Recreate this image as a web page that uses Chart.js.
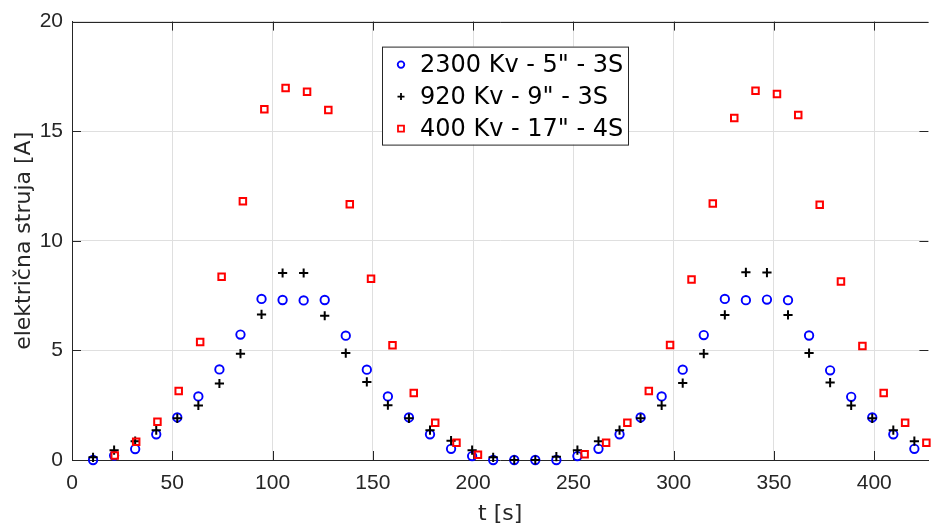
<!DOCTYPE html>
<html>
<head>
<meta charset="utf-8">
<script src="https://cdn.jsdelivr.net/npm/chart.js@4.4.1/dist/chart.umd.min.js"></script>
<style>
html,body{margin:0;padding:0;background:#ffffff;overflow:hidden}
#wrap{width:935px;height:527px;position:relative}
</style>
</head>
<body>
<div id="wrap"><canvas id="c" width="935" height="527"></canvas></div>
<script>
// ---- data ----
const seriesNames = ['2300 Kv - 5" - 3S', '920 Kv - 9" - 3S', '400 Kv - 17" - 4S'];

// time instants of the blue (circle) and black (plus) series [s]
const tCommon = [10.5, 21, 31.5, 42, 52.5, 63, 73.5, 84, 94.5, 105,
                 115.5, 126, 136.5, 147, 157.5, 168, 178.5, 189, 199.5, 210,
                 220.5, 231, 241.5, 252, 262.5, 273, 283.5, 294, 304.5, 315,
                 325.5, 336, 346.5, 357, 367.5, 378, 388.5, 399, 409.5, 420];

const blueValues = [0, 0.2, 0.5, 1.17, 1.94, 2.9, 4.13, 5.72, 7.35, 7.3,
                    7.28, 7.3, 5.67, 4.12, 2.9, 1.94, 1.17, 0.51, 0.18, 0,
                    0, 0, 0, 0.18, 0.51, 1.17, 1.94, 2.9, 4.12, 5.7,
                    7.35, 7.29, 7.32, 7.29, 5.68, 4.09, 2.88, 1.94, 1.17, 0.51];

const blackValues = [0.12, 0.45, 0.86, 1.36, 1.9, 2.49, 3.49, 4.85, 6.64, 8.53,
                     8.53, 6.58, 4.88, 3.56, 2.5, 1.9, 1.36, 0.88, 0.45, 0.12,
                     0, 0, 0.15, 0.45, 0.86, 1.36, 1.9, 2.49, 3.51, 4.85,
                     6.62, 8.56, 8.55, 6.62, 4.88, 3.53, 2.49, 1.9, 1.36, 0.86];

// time instants of the red (square) series [s]
const tRed = [21.3, 32, 42.6, 53.2, 63.9, 74.6, 85.2, 95.9, 106.5, 117.2,
              127.8, 138.5, 149.1, 159.8, 170.4, 181.1, 191.7, 202.4,
              255.6, 266.3, 276.9, 287.6, 298.2, 308.9, 319.5, 330.2, 340.8,
              351.5, 362.1, 372.8, 383.4, 394.1, 404.7, 415.4, 426];

const redValues = [0.2, 0.83, 1.74, 3.15, 5.38, 8.36, 11.8, 16.0, 16.97, 16.8,
                   15.97, 11.67, 8.27, 5.24, 3.06, 1.7, 0.79, 0.24,
                   0.26, 0.79, 1.7, 3.15, 5.25, 8.24, 11.7, 15.6, 16.85,
                   16.7, 15.74, 11.64, 8.14, 5.2, 3.06, 1.7, 0.79];

const xTicks = [0, 50, 100, 150, 200, 250, 300, 350, 400];
const yTicks = [0, 5, 10, 15, 20];
const xTitle = 't [s]';
const yTitle = 'električna struja [A]';

// ---- styling ----
const AXIS = '#262626';
const GRID = '#dfdfdf';
const colors = ['#0000ff', '#000000', '#ff0000'];
const styles = ['circle', 'cross', 'rect'];

const pairs = (xs, ys) => xs.map((x, i) => ({x: x, y: ys[i]}));

const axesDeco = {
  id: 'axesDeco',
  beforeDatasetsDraw(chart) {
    const {ctx, chartArea: a, scales: {x, y}} = chart;
    const tl = 9;
    ctx.save();
    ctx.strokeStyle = AXIS;
    ctx.lineWidth = 1;
    ctx.beginPath();
    ctx.moveTo(a.left, Math.round(a.top) + 0.5);
    ctx.lineTo(a.right, Math.round(a.top) + 0.5);
    xTicks.forEach(v => {
      const px = Math.round(x.getPixelForValue(v)) + 0.5;
      ctx.moveTo(px, a.bottom); ctx.lineTo(px, a.bottom - tl);
      ctx.moveTo(px, a.top); ctx.lineTo(px, a.top + tl);
    });
    yTicks.forEach(v => {
      const py = Math.round(y.getPixelForValue(v)) + 0.5;
      ctx.moveTo(a.left, py); ctx.lineTo(a.left + tl, py);
      ctx.moveTo(a.right, py); ctx.lineTo(a.right - tl, py);
    });
    ctx.stroke();
    ctx.restore();
  }
};

const legendBox = {
  id: 'legendBox',
  afterDraw(chart) {
    const {ctx, chartArea: a} = chart;
    const bx = a.left + 310, by = a.top + 25, bw = 246, bh = 98;
    ctx.save();
    ctx.fillStyle = '#ffffff';
    ctx.fillRect(bx, by, bw, bh);
    ctx.strokeStyle = AXIS;
    ctx.lineWidth = 1;
    ctx.strokeRect(bx + 0.5, by + 0.5, bw, bh);
    ctx.font = '24px "DejaVu Sans"';
    ctx.textBaseline = 'middle';
    ctx.textAlign = 'left';
    seriesNames.forEach((name, i) => {
      const cy = by + 18 + i * 32;
      const mx = bx + 19;
      ctx.strokeStyle = colors[i];
      ctx.lineWidth = 1.8;
      ctx.beginPath();
      if (styles[i] === 'circle') {
        ctx.arc(mx, cy, 3.3, 0, Math.PI * 2);
      } else if (styles[i] === 'cross') {
        ctx.moveTo(mx - 3.5, cy); ctx.lineTo(mx + 3.5, cy);
        ctx.moveTo(mx, cy - 3.5); ctx.lineTo(mx, cy + 3.5);
      } else {
        ctx.rect(mx - 3, cy - 3, 6, 6);
      }
      ctx.stroke();
      ctx.fillStyle = '#000000';
      ctx.fillText(name, bx + 38, cy + 1);
    });
    ctx.restore();
  }
};

new Chart(document.getElementById('c'), {
  type: 'scatter',
  data: {
    datasets: [
      {label: seriesNames[0], data: pairs(tCommon, blueValues), pointStyle: styles[0],
       pointRadius: 4.2, pointBorderWidth: 1.9, pointBorderColor: colors[0], borderColor: colors[0],
       pointBackgroundColor: 'rgba(0,0,0,0)', backgroundColor: 'rgba(0,0,0,0)',
       showLine: false, clip: false, order: 3},
      {label: seriesNames[1], data: pairs(tCommon, blackValues), pointStyle: styles[1],
       pointRadius: 4.6, pointBorderWidth: 2, pointBorderColor: colors[1], borderColor: colors[1],
       pointBackgroundColor: 'rgba(0,0,0,0)', backgroundColor: 'rgba(0,0,0,0)',
       showLine: false, clip: false, order: 2},
      {label: seriesNames[2], data: pairs(tRed, redValues), pointStyle: styles[2],
       pointRadius: 4.6, pointBorderWidth: 2, pointBorderColor: colors[2], borderColor: colors[2],
       pointBackgroundColor: 'rgba(0,0,0,0)', backgroundColor: 'rgba(0,0,0,0)',
       showLine: false, clip: false, order: 1}
    ]
  },
  options: {
    responsive: false,
    animation: false,
    devicePixelRatio: 1,
    events: [],
    layout: {padding: {top: 20, right: 0, left: 0, bottom: 0}},
    plugins: {legend: {display: false}, tooltip: {enabled: false}},
    scales: {
      x: {
        type: 'linear', min: 0, max: 427,
        afterBuildTicks: s => { s.ticks = xTicks.map(v => ({value: v})); },
        afterFit: s => { s.height = 67; },
        grid: {color: GRID, drawTicks: false},
        border: {color: AXIS, width: 1},
        ticks: {padding: 11, color: AXIS, maxRotation: 0, autoSkip: false,
                font: {family: '"Liberation Sans", Arial, sans-serif', size: 21}},
        title: {display: true, text: xTitle, color: AXIS,
                font: {family: '"DejaVu Sans"', size: 22}, padding: {top: 0, bottom: 0}}
      },
      y: {
        type: 'linear', min: 0, max: 20,
        afterBuildTicks: s => { s.ticks = yTicks.map(v => ({value: v})); },
        afterFit: s => { s.width = 72; },
        grid: {color: GRID, drawTicks: false},
        border: {color: AXIS, width: 1},
        ticks: {padding: 9, color: AXIS,
                font: {family: '"Liberation Sans", Arial, sans-serif', size: 21}},
        title: {display: true, text: yTitle, color: AXIS,
                font: {family: '"DejaVu Sans"', size: 22}, padding: {top: 11, bottom: 0}}
      }
    }
  },
  plugins: [axesDeco, legendBox]
});
</script>
</body>
</html>
